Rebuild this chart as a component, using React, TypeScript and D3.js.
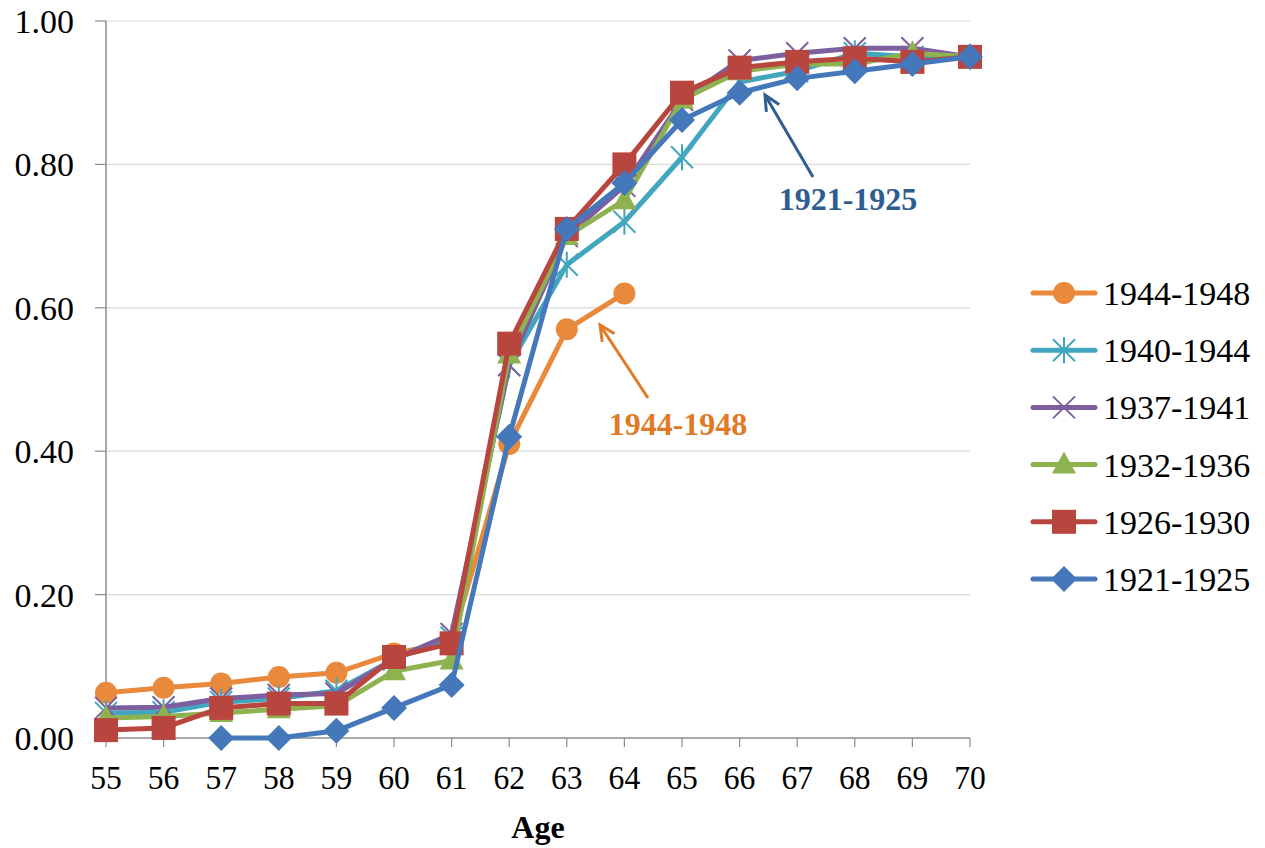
import React from "react";
import * as d3 from "d3";

const ages = [55, 56, 57, 58, 59, 60, 61, 62, 63, 64, 65, 66, 67, 68, 69, 70];
const yTicks = [0, 0.2, 0.4, 0.6, 0.8, 1.0];

const s1944_1948 = [0.063, 0.07, 0.076, 0.085, 0.091, 0.118, 0.134, 0.41, 0.57, 0.62, null, null, null, null, null, null];
const s1940_1944 = [0.035, 0.036, 0.05, 0.055, 0.066, 0.11, 0.14, 0.52, 0.66, 0.72, 0.81, 0.915, 0.93, 0.955, 0.95, 0.95];
const s1937_1941 = [0.042, 0.043, 0.055, 0.06, 0.062, 0.11, 0.145, 0.52, 0.70, 0.77, 0.89, 0.945, 0.955, 0.962, 0.962, 0.95];
const s1932_1936 = [0.028, 0.03, 0.035, 0.04, 0.045, 0.093, 0.108, 0.535, 0.70, 0.75, 0.89, 0.93, 0.94, 0.94, 0.955, 0.95];
const s1926_1930 = [0.011, 0.014, 0.042, 0.048, 0.048, 0.113, 0.132, 0.55, 0.71, 0.80, 0.90, 0.935, 0.943, 0.948, 0.943, 0.95];
const s1921_1925 = [null, null, 0.0, 0.0, 0.01, 0.042, 0.074, 0.42, 0.71, 0.774, 0.862, 0.90, 0.92, 0.93, 0.94, 0.95];

type Sym = "circle" | "asterisk" | "x" | "triangle" | "square" | "diamond";
const series: { name: string; values: (number | null)[]; color: string; sym: Sym }[] = [
  { name: "1944-1948", values: s1944_1948, color: "#E8893C", sym: "circle" },
  { name: "1940-1944", values: s1940_1944, color: "#43A6BF", sym: "asterisk" },
  { name: "1937-1941", values: s1937_1941, color: "#7D5FA0", sym: "x" },
  { name: "1932-1936", values: s1932_1936, color: "#8FB250", sym: "triangle" },
  { name: "1926-1930", values: s1926_1930, color: "#B9453F", sym: "square" },
  { name: "1921-1925", values: s1921_1925, color: "#4478BB", sym: "diamond" },
];

const annotations = [
  { label: "1944-1948", color: "#E07A26", tx: 678, ty: 435, x1: 648, y1: 398, x2: 600, y2: 325 },
  { label: "1921-1925", color: "#2E5E91", tx: 848, ty: 210, x1: 813, y1: 177, x2: 765, y2: 95 },
];

const FONT = "'Liberation Serif', 'Times New Roman', serif";

function Marker({ sym, x, y, color }: { sym: Sym; x: number; y: number; color: string }) {
  switch (sym) {
    case "circle":
      return <circle cx={x} cy={y} r={11} fill={color} />;
    case "square":
      return <rect x={x - 12} y={y - 12} width={24} height={24} fill={color} />;
    case "diamond":
      return <path d={`M${x},${y - 13}L${x + 13},${y}L${x},${y + 13}L${x - 13},${y}Z`} fill={color} />;
    case "triangle":
      return <path d={`M${x},${y - 13}L${x + 12},${y + 9}L${x - 12},${y + 9}Z`} fill={color} />;
    case "x":
      return (
        <path
          d={`M${x - 11},${y - 11}L${x + 11},${y + 11}M${x - 11},${y + 11}L${x + 11},${y - 11}`}
          stroke={color}
          strokeWidth={2}
        />
      );
    case "asterisk":
      return (
        <path
          d={`M${x - 11},${y - 11}L${x + 11},${y + 11}M${x - 11},${y + 11}L${x + 11},${y - 11}M${x},${y - 13}L${x},${y + 13}`}
          stroke={color}
          strokeWidth={2}
        />
      );
  }
}

export default function App() {
  const W = 1265;
  const H = 848;
  const x = d3.scaleLinear().domain([55, 70]).range([106, 970]);
  const y = d3.scaleLinear().domain([0, 1]).range([738, 21]);
  const line = d3
    .line<number | null>()
    .defined((d) => d !== null)
    .x((_, i) => x(ages[i]))
    .y((d) => y(d as number));

  const legendY0 = 293;
  const legendStep = 57.2;

  return (
    <svg
      width={W}
      height={H}
      style={{ position: "absolute", left: 0, top: 0, background: "#fff" }}
      fontFamily={FONT}
    >
      <rect width={W} height={H} fill="#fff" />
      {yTicks.map((t) =>
        t > 0 ? (
          <line key={"g" + t} x1={x(55)} x2={x(70)} y1={y(t)} y2={y(t)} stroke="#D9D9D9" strokeWidth={1.2} />
        ) : null
      )}
      <line x1={x(55)} x2={x(55)} y1={y(1)} y2={y(0)} stroke="#8C8C8C" strokeWidth={1.5} />
      {yTicks.map((t) => (
        <g key={"yt" + t}>
          <line x1={x(55) - 11} x2={x(55)} y1={y(t)} y2={y(t)} stroke="#8C8C8C" strokeWidth={1.2} />
          <text x={74} y={y(t)} dy="0.35em" textAnchor="end" fontSize={34} fill="#000">
            {t.toFixed(2)}
          </text>
        </g>
      ))}
      <line x1={x(55)} x2={x(70)} y1={y(0)} y2={y(0)} stroke="#8C8C8C" strokeWidth={1.5} />
      {ages.map((a) => (
        <g key={"xt" + a}>
          <line x1={x(a)} x2={x(a)} y1={y(0)} y2={y(0) + 9} stroke="#8C8C8C" strokeWidth={1.2} />
          <text x={x(a)} y={789} textAnchor="middle" fontSize={34} fill="#000" transform={`translate(${x(a)},0) scale(0.93,1) translate(${-x(a)},0)`}>
            {a}
          </text>
        </g>
      ))}
      <text x={538} y={838} textAnchor="middle" fontSize={32} fontWeight="bold" fill="#000">
        Age
      </text>

      {series.map((s) => (
        <g key={s.name}>
          <path d={line(s.values) || ""} fill="none" stroke={s.color} strokeWidth={5} strokeLinejoin="round" />
          {s.values.map((v, i) =>
            v === null ? null : <Marker key={i} sym={s.sym} x={x(ages[i])} y={y(v)} color={s.color} />
          )}
        </g>
      ))}

      {annotations.map((a) => {
        const ang = Math.atan2(a.y2 - a.y1, a.x2 - a.x1);
        const hl = 17;
        const spread = 0.45;
        const h1x = a.x2 - hl * Math.cos(ang - spread);
        const h1y = a.y2 - hl * Math.sin(ang - spread);
        const h2x = a.x2 - hl * Math.cos(ang + spread);
        const h2y = a.y2 - hl * Math.sin(ang + spread);
        return (
          <g key={a.label}>
            <line x1={a.x1} y1={a.y1} x2={a.x2} y2={a.y2} stroke={a.color} strokeWidth={3} />
            <path d={`M${h1x},${h1y}L${a.x2},${a.y2}L${h2x},${h2y}`} fill="none" stroke={a.color} strokeWidth={3} />
            <text x={a.tx} y={a.ty} textAnchor="middle" fontSize={32} fontWeight="bold" fill={a.color}>
              {a.label}
            </text>
          </g>
        );
      })}

      {series.map((s, i) => {
        const ly = legendY0 + i * legendStep;
        return (
          <g key={"lg" + s.name}>
            <line x1={1033} x2={1095} y1={ly} y2={ly} stroke={s.color} strokeWidth={5} strokeLinecap="round" />
            <Marker sym={s.sym} x={1064} y={ly} color={s.color} />
            <text x={1103} y={ly} dy="0.35em" fontSize={34} fill="#000">
              {s.name}
            </text>
          </g>
        );
      })}
    </svg>
  );
}
